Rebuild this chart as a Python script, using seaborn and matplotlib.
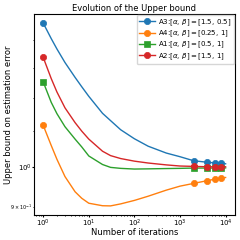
import matplotlib
matplotlib.use('Agg')
import matplotlib.pyplot as plt
import matplotlib.ticker as mticker
import seaborn as sns

# Iterations sampled along the curves (markers at 1, 2000, 4000, 6000, 8000)
iterations = [1, 1.5, 2, 3, 5, 7, 10, 20, 30, 50, 100, 200, 500, 1000,
              2000, 4000, 6000, 8000, 10000]
marker_idx = [0, 14, 15, 16, 17]

# Upper bound values
a3_bound = [1.463, 1.404, 1.366, 1.318, 1.267, 1.236, 1.205, 1.152, 1.130, 1.103,
            1.077, 1.056, 1.037, 1.027, 1.016, 1.012, 1.010, 1.009, 1.008]
a4_bound = [1.116, 1.058, 1.020, 0.9745, 0.936, 0.920, 0.908, 0.902, 0.9016, 0.9064,
            0.9148, 0.925, 0.940, 0.950, 0.957, 0.964, 0.968, 0.970, 0.972]
a1_bound = [1.252, 1.186, 1.151, 1.112, 1.076, 1.054, 1.029, 1.006, 0.9984, 0.9958,
            0.994, 0.9945, 0.9953, 0.9958, 0.9966, 0.9966, 0.9966, 0.9966, 0.997]
a2_bound = [1.336, 1.263, 1.219, 1.169, 1.124, 1.099, 1.076, 1.042, 1.030, 1.022,
            1.015, 1.010, 1.005, 1.002, 1.001, 1.000, 1.000, 1.000, 1.000]

series = [
    (a3_bound, r'A3:$[\alpha,\,\beta]=[1.5,\,0.5]$', 'o', '#1f77b4'),
    (a4_bound, r'A4:$[\alpha,\,\beta]=[0.25,\,1]$', 'o', '#ff7f0e'),
    (a1_bound, r'A1:$[\alpha,\,\beta]=[0.5,\,1]$', 's', '#2ca02c'),
    (a2_bound, r'A2:$[\alpha,\,\beta]=[1.5,\,1]$', 'o', '#d62728'),
]

fig = plt.figure(figsize=(2.4, 2.4), dpi=100)
ax = fig.add_axes([0.142, 0.104, 0.836, 0.838])

for values, label, mk, col in series:
    sns.lineplot(x=iterations, y=values, ax=ax, label=label, color=col,
                 marker=mk, markevery=marker_idx, markersize=4.5,
                 markeredgecolor=col, markeredgewidth=0.5, linewidth=1, sort=False)

ax.set_xscale('log')
ax.set_yscale('log')

# only the 0.9 minor tick carries a label, as in the reference
def minor_label(v, pos):
    if abs(v - 0.9) < 1e-6:
        return r'$\mathdefault{9\times10^{-1}}$'
    return ''
ax.yaxis.set_minor_formatter(mticker.FuncFormatter(minor_label))

ax.set_title('Evolution of the Upper bound', fontsize=6, pad=2)
ax.set_xlabel('Number of iterations', fontsize=6, va='top')
ax.set_ylabel('Upper bound on estimation error', fontsize=6)
ax.xaxis.set_label_coords(0.5, -0.064)
ax.yaxis.set_label_coords(-0.105, 0.5)
ax.tick_params(axis='both', which='major', labelsize=5, length=1.5, pad=0.3)
ax.tick_params(axis='both', which='minor', labelsize=3.5, length=1, pad=0.5)
ax.legend(loc='upper right', fontsize=5, handlelength=2.2, borderpad=0.35,
          labelspacing=0.12, handletextpad=0.5, borderaxespad=0.1)

plt.savefig('out.png', dpi=100)
